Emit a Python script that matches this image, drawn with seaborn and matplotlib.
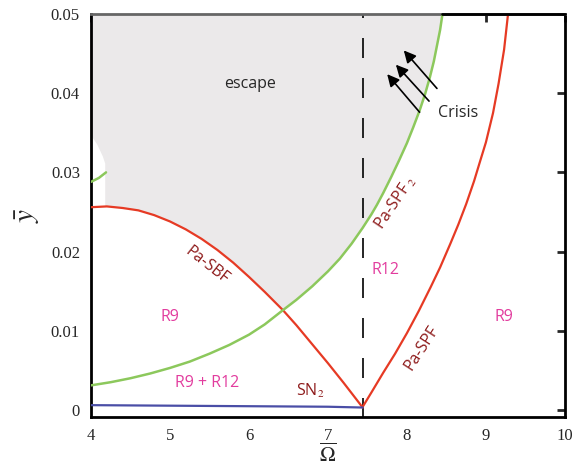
import numpy as np
import seaborn as sns
import matplotlib.pyplot as plt

# curves (Omega_bar, y_bar)
sbf_x = [4.0, 4.2, 4.4, 4.6, 4.8, 5.0, 5.2, 5.4, 5.6, 5.8, 6.0, 6.2, 6.43, 6.6, 6.8, 7.0, 7.2, 7.44]
sbf_y = [0.0256, 0.0257, 0.0255, 0.0252, 0.0246, 0.0238, 0.0228, 0.0216, 0.0202, 0.0186,
         0.0168, 0.0149, 0.0126, 0.0107, 0.0083, 0.0059, 0.0034, 0.0003]

spf2_x = [4.0, 4.25, 4.5, 4.75, 5.0, 5.25, 5.5, 5.75, 6.0, 6.2, 6.43, 6.6, 6.8, 7.0, 7.15,
          7.3, 7.44, 7.55, 7.62, 7.7, 7.8, 7.9, 8.0, 8.08, 8.16, 8.23, 8.29, 8.34, 8.38,
          8.42, 8.45]
spf2_y = [0.0031, 0.0035, 0.0040, 0.0046, 0.0053, 0.0061, 0.0071, 0.0082, 0.0095, 0.0108,
          0.0126, 0.0139, 0.0156, 0.0175, 0.0191, 0.0210, 0.0230, 0.0247, 0.0259, 0.0274,
          0.0294, 0.0315, 0.0337, 0.0357, 0.0378, 0.0399, 0.0420, 0.0440, 0.0460, 0.0480,
          0.0500]

spf_x = [7.44, 7.55, 7.7, 7.85, 8.0, 8.15, 8.3, 8.42, 8.55, 8.65, 8.75, 8.85, 8.92, 9.0,
         9.09, 9.16, 9.23, 9.28]
spf_y = [0.0004, 0.0022, 0.0047, 0.0071, 0.0097, 0.0125, 0.0155, 0.0180, 0.0210, 0.0234,
         0.0260, 0.0289, 0.0312, 0.0338, 0.0375, 0.0412, 0.0455, 0.0500]

sn2_x = [4.0, 5.5, 7.0, 7.44]
sn2_y = [0.0006, 0.0005, 0.0004, 0.0003]

# small green piece at the upper left
spf2b_x = [4.0, 4.1, 4.19]
spf2b_y = [0.0288, 0.0293, 0.0300]

# left edge of the escape region
edge_x = [4.0, 4.08, 4.15, 4.18, 4.18]
edge_y = [0.0347, 0.0335, 0.0320, 0.0311, 0.0256]

omega_crit = 7.44

RED = '#e63a24'
GREEN = '#8cc85c'
BLUE = '#4a4ea6'
DARKRED = '#8e1b1b'
PINK = '#e23c9e'
GRAY = '#ebe9ea'

sns.set_style('white')
plt.rcParams['mathtext.fontset'] = 'stix'

fig = plt.figure(figsize=(5.86, 4.67), dpi=100)
ax = fig.add_axes([0.1553, 0.107, 0.8087, 0.863])

# escape region polygon
sbf_x_arr, sbf_y_arr = np.array(sbf_x), np.array(sbf_y)
spf2_x_arr, spf2_y_arr = np.array(spf2_x), np.array(spf2_y)
m1 = (sbf_x_arr > 4.18) & (sbf_x_arr < 6.43)
m2 = spf2_x_arr >= 6.43
px = list(edge_x) + list(sbf_x_arr[m1]) + list(spf2_x_arr[m2]) + [4.0]
py = list(edge_y) + list(sbf_y_arr[m1]) + list(spf2_y_arr[m2]) + [0.05]
ax.fill(px, py, color=GRAY, lw=0, zorder=1)

sns.lineplot(x=sbf_x, y=sbf_y, ax=ax, color=RED, lw=1.6, sort=False, zorder=3)
sns.lineplot(x=spf_x, y=spf_y, ax=ax, color=RED, lw=1.6, sort=False, zorder=3)
sns.lineplot(x=spf2_x, y=spf2_y, ax=ax, color=GREEN, lw=1.8, sort=False, zorder=3)
sns.lineplot(x=spf2b_x, y=spf2b_y, ax=ax, color=GREEN, lw=1.8, sort=False, zorder=3)
sns.lineplot(x=sn2_x, y=sn2_y, ax=ax, color=BLUE, lw=1.6, sort=False, zorder=3)
ax.plot([omega_crit, omega_crit], [-0.001, 0.05], color='black', lw=1.2,
        linestyle=(0, (12, 12)), zorder=2)

ax.set_xlim(4, 10)
ax.set_ylim(-0.0009, 0.05)
ax.set_xticks([4, 5, 6, 7, 8, 9, 10])
ax.set_yticks([0, 0.01, 0.02, 0.03, 0.04, 0.05])
ax.set_yticklabels(['0', '0.01', '0.02', '0.03', '0.04', '0.05'])
ax.tick_params(direction='in', length=6, width=2, top=True, right=True,
               labelsize=12, pad=8)
for lab in ax.get_xticklabels() + ax.get_yticklabels():
    lab.set_family('Liberation Serif')

for s in ax.spines.values():
    s.set_linewidth(2)
    s.set_color('black')
ax.spines['top'].set_color('#666666')
ax.plot([8.45, 10], [0.05, 0.05], color='black', lw=2, clip_on=False, zorder=5)
for t in ax.xaxis.get_major_ticks():
    if t.get_loc() <= 8:
        t.tick2line.set_color('#666666')
for t in ax.yaxis.get_major_ticks():
    if t.get_loc() >= 0.03:
        t.tick1line.set_color('#666666')

ax.set_xlabel(r'$\overline{\Omega}$', fontsize=15, labelpad=-1)
ax.set_ylabel(r'$\bar{y}$', fontsize=21, labelpad=6)

# annotations
sans = 'Open Sans'
ax.text(6.01, 0.0412, 'escape', fontsize=11.5, family=sans, ha='center', va='center')
ax.text(8.65, 0.0375, 'Crisis', fontsize=11.5, family=sans, ha='center', va='center')
arrows = [((8.16, 0.0376), (7.75, 0.0424)),
          ((8.28, 0.0390), (7.86, 0.0436)),
          ((8.38, 0.0406), (7.96, 0.0454))]
for tail, head in arrows:
    ax.annotate('', xy=head, xytext=tail,
                arrowprops=dict(arrowstyle='-|>', color='black', lw=1.2,
                                mutation_scale=18, shrinkA=0, shrinkB=0))

ax.text(5.47, 0.0182, 'Pa-SBF', fontsize=11.5, family=sans, color=DARKRED,
        rotation=-38, ha='center', va='center', rotation_mode='anchor')
ax.text(7.85, 0.0262, r'Pa-SPF$_{\ 2}$', fontsize=11.5, family=sans, color=DARKRED,
        rotation=56, ha='center', va='center', rotation_mode='anchor')
ax.text(8.19, 0.0078, 'Pa-SPF', fontsize=11.5, family=sans, color=DARKRED,
        rotation=57, ha='center', va='center', rotation_mode='anchor')
ax.text(6.77, 0.0024, r'SN$_2$', fontsize=11.5, family=sans, color=DARKRED,
        ha='center', va='center')

ax.text(5.0, 0.0117, 'R9', fontsize=11.5, family=sans, color=PINK, ha='center', va='center')
ax.text(5.47, 0.0034, 'R9 + R12', fontsize=11.5, family=sans, color=PINK, ha='center', va='center')
ax.text(7.73, 0.0177, 'R12', fontsize=11.5, family=sans, color=PINK, ha='center', va='center')
ax.text(9.23, 0.0117, 'R9', fontsize=11.5, family=sans, color=PINK, ha='center', va='center')

fig.savefig('out.png', dpi=100)
